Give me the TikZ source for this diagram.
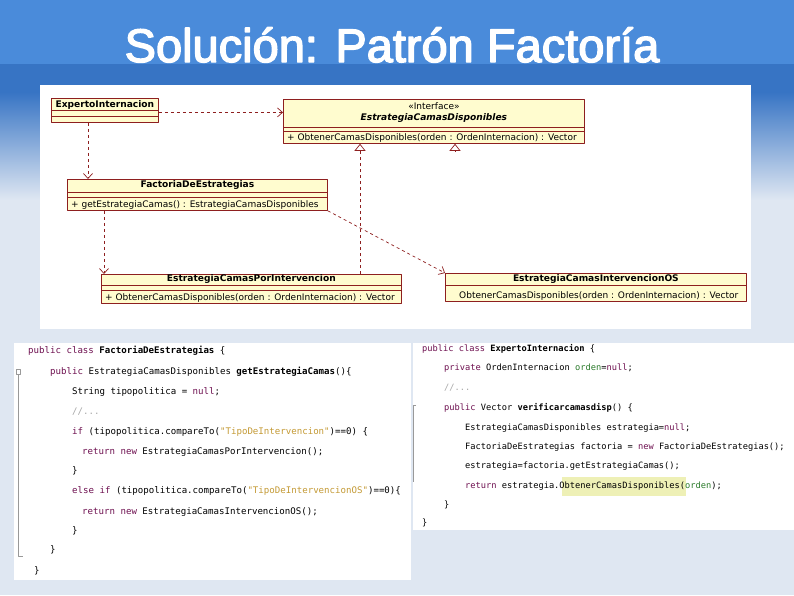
\documentclass[tikz,border=0pt]{standalone}
\usepackage{fontspec}
\setmainfont{Liberation Sans}
\newfontfamily\titlefont{Liberation Sans}[FakeBold=3]
\newfontfamily\umlfont{DejaVu Sans}
\newfontfamily\codefont{DejaVu Sans Mono}
\usetikzlibrary{arrows.meta,calc}
\definecolor{umlred}{HTML}{8E1F1F}
\definecolor{umlfill}{HTML}{FFFCCF}
\definecolor{bandtop}{HTML}{4A8BDA}
\definecolor{bandlow}{HTML}{3774C4}
\definecolor{slidebg}{HTML}{DFE7F2}
\definecolor{kwcol}{HTML}{6E1050}
\definecolor{strcol}{HTML}{C49A35}
\definecolor{fldcol}{HTML}{2A7A2A}
\definecolor{hilite}{HTML}{EEF0B6}
\newcommand{\kw}[1]{\textcolor{kwcol}{#1}}
\newcommand{\strg}[1]{\textcolor{strcol}{#1}}
\newcommand{\fld}[1]{\textcolor{fldcol}{#1}}
\newcommand{\cmnt}[1]{\textcolor{gray!70}{#1}}
\begin{document}
\begin{tikzpicture}[x=1pt,y=-1pt,>=stealth,line join=round]
	\tikzset{classbox/.style={draw=umlred,fill=umlfill,line width=0.8pt,inner sep=0pt,anchor=north west},
		umltext/.style={font=\umlfont\fontsize{9}{10}\selectfont,inner sep=0pt},
		umlname/.style={umltext,font=\umlfont\bfseries\fontsize{9.1}{10}\selectfont},
		dep/.style={draw=umlred,dashed,line width=0.7pt,-{Straight Barb[length=5pt,width=9pt]}},
		realize/.style={draw=umlred,dashed,line width=0.7pt,-{Triangle[open,length=7pt,width=11pt]}},
		code/.style={font=\codefont\fontsize{9.1}{10}\selectfont,inner sep=0pt,anchor=west},
		coder/.style={font=\codefont\fontsize{8.7}{10}\selectfont,inner sep=0pt,anchor=west}}
	%% fondo de la diapositiva
	\useasboundingbox (0,0) rectangle (794,595);
	\fill[slidebg] (0,0) rectangle (794,595);
	\shade[top color=bandlow,bottom color=slidebg] (0,92) rectangle (794,200);
	\fill[bandlow] (0,64) rectangle (794,92);
	\fill[bandtop] (0,0) rectangle (794,64);
	\node[text=white,font=\titlefont\fontsize{47}{50}\selectfont,anchor=base,inner sep=0pt] (titulo) at (392,62) {Solución: Patrón Factoría};
	%% diagrama de clases
	\fill[white] (40,85) rectangle (751,329);
	\node[classbox,minimum width=107pt,minimum height=24pt] (experto) at (51,98) {};
	\node[classbox,minimum width=301pt,minimum height=44pt] (iface) at (283,99) {};
	\node[classbox,minimum width=260pt,minimum height=31pt] (factoria) at (67,179) {};
	\node[classbox,minimum width=300pt,minimum height=29pt] (poriv) at (101,274) {};
	\node[classbox,minimum width=301pt,minimum height=28pt] (os) at (445,273) {};
	%% compartimentos
	\draw[umlred,line width=0.8pt]
	([yshift=-12]experto.north west) -- ([yshift=-12]experto.north east)
	([yshift=-18]experto.north west) -- ([yshift=-18]experto.north east)
	([yshift=-28]iface.north west) -- ([yshift=-28]iface.north east)
	([yshift=-32]iface.north west) -- ([yshift=-32]iface.north east)
	([yshift=-13]factoria.north west) -- ([yshift=-13]factoria.north east)
	([yshift=-18]factoria.north west) -- ([yshift=-18]factoria.north east)
	([yshift=-11]poriv.north west) -- ([yshift=-11]poriv.north east)
	([yshift=-16]poriv.north west) -- ([yshift=-16]poriv.north east)
	([yshift=-12]os.north west) -- ([yshift=-12]os.north east)
	;
	\node[umlname] (nexperto) at ($(experto.north)+(0,6.5)$) {ExpertoInternacion};
	\node[umltext] (stereo) at ($(iface.north)+(0,7)$) {«Interface»};
	\node[umlname,font=\umlfont\bfseries\itshape\fontsize{9.1}{10}\selectfont] (niface) at ($(iface.north)+(0,19)$) {EstrategiaCamasDisponibles};
	\node[umltext,anchor=west] (miface) at ($(iface.south west)+(4,-6)$) {+ ObtenerCamasDisponibles(orden : OrdenInternacion) : Vector};
	\node[umlname] (nfactoria) at ($(factoria.north)+(0,6.5)$) {FactoriaDeEstrategias};
	\node[umltext,anchor=west] (mfactoria) at ($(factoria.south west)+(4,-6)$) {+ getEstrategiaCamas() : EstrategiaCamasDisponibles};
	\node[umlname] (nporiv) at ($(poriv.north)+(0,5.5)$) {EstrategiaCamasPorIntervencion};
	\node[umltext,anchor=west] (mporiv) at ($(poriv.south west)+(4,-6)$) {+ ObtenerCamasDisponibles(orden : OrdenInternacion) : Vector};
	\node[umlname] (nos) at ($(os.north)+(0,6)$) {EstrategiaCamasIntervencionOS};
	\node[umltext,anchor=west] (mos) at ($(os.south west)+(14,-6)$) {ObtenerCamasDisponibles(orden : OrdenInternacion) : Vector};
	%% relaciones
	\draw[dep] ([yshift=-2]experto.east) -- ([yshift=-2]experto.east -| iface.west);
	\draw[dep] ([xshift=37]experto.south west) -- ([xshift=37]experto.south west |- factoria.north);
	\draw[dep] ([xshift=37]factoria.south west) -- ([xshift=37]factoria.south west |- poriv.north);
	\draw[dep] (factoria.south east) -- (os.north west);
	\draw[realize] ([xshift=259]poriv.north west) -- ([xshift=259]poriv.north west |- iface.south);
	\coordinate (osreal) at ([xshift=172]iface.south west);
	\draw[realize] ([yshift=-7.5]osreal) -- (osreal);
	%% codigo de FactoriaDeEstrategias
	\fill[white] (14,343) rectangle (411,580);
	\draw[gray!80,line width=0.6pt] (18,374) -- (18,556) -- (23,556);
	\draw[gray!80,fill=white,line width=0.5pt] (16,369) rectangle (20,374);
	\path
	(28,351) node[code] (l1) {\kw{public class} \textbf{FactoriaDeEstrategias} \{}
	(50,372) node[code] (l2) {\kw{public} EstrategiaCamasDisponibles \textbf{getEstrategiaCamas}()\{}
	(72,392) node[code] (l3) {String tipopolitica = \kw{null};}
	(72,412) node[code] (l4) {\cmnt{//...}}
	(72,432) node[code] (l5) {\kw{if} (tipopolitica.compareTo(\strg{"TipoDeIntervencion"})==0) \{}
	(82,452) node[code] (l6) {\kw{return} \kw{new} EstrategiaCamasPorIntervencion();}
	(72,471) node[code] (l7) {\}}
	(72,491) node[code] (l8) {\kw{else if} (tipopolitica.compareTo(\strg{"TipoDeIntervencionOS"})==0)\{}
	(82,512) node[code] (l9) {\kw{return} \kw{new} EstrategiaCamasIntervencionOS();}
	(72,531) node[code] (l10) {\}}
	(50,550) node[code] (l11) {\}}
	(34,571) node[code] (l12) {\}}
	;
	%% codigo de ExpertoInternacion
	\fill[white] (413,343) rectangle (794,530);
	\fill[hilite] (562,477) rectangle (686,496);
	\draw[gray!80,line width=0.6pt] (416,405) -- (413,405) -- (413,482);
	\path
	(422,349) node[coder] (r1) {\kw{public class} \textbf{ExpertoInternacion} \{}
	(444,368) node[coder] (r2) {\kw{private} OrdenInternacion \fld{orden}=\kw{null};}
	(444,388) node[coder] (r3) {\cmnt{//...}}
	(444,408) node[coder] (r4) {\kw{public} Vector \textbf{verificarcamasdisp}() \{}
	(465,428) node[coder] (r5) {EstrategiaCamasDisponibles estrategia=\kw{null};}
	(465,447) node[coder] (r6) {FactoriaDeEstrategias factoria = \kw{new} FactoriaDeEstrategias();}
	(465,466) node[coder] (r7) {estrategia=factoria.getEstrategiaCamas();}
	(465,486) node[coder] (r8) {\kw{return} estrategia.ObtenerCamasDisponibles(\fld{orden});}
	(444,505) node[coder] (r9) {\}}
	(422,523) node[coder] (r10) {\}}
	;
\end{tikzpicture}
\end{document}
